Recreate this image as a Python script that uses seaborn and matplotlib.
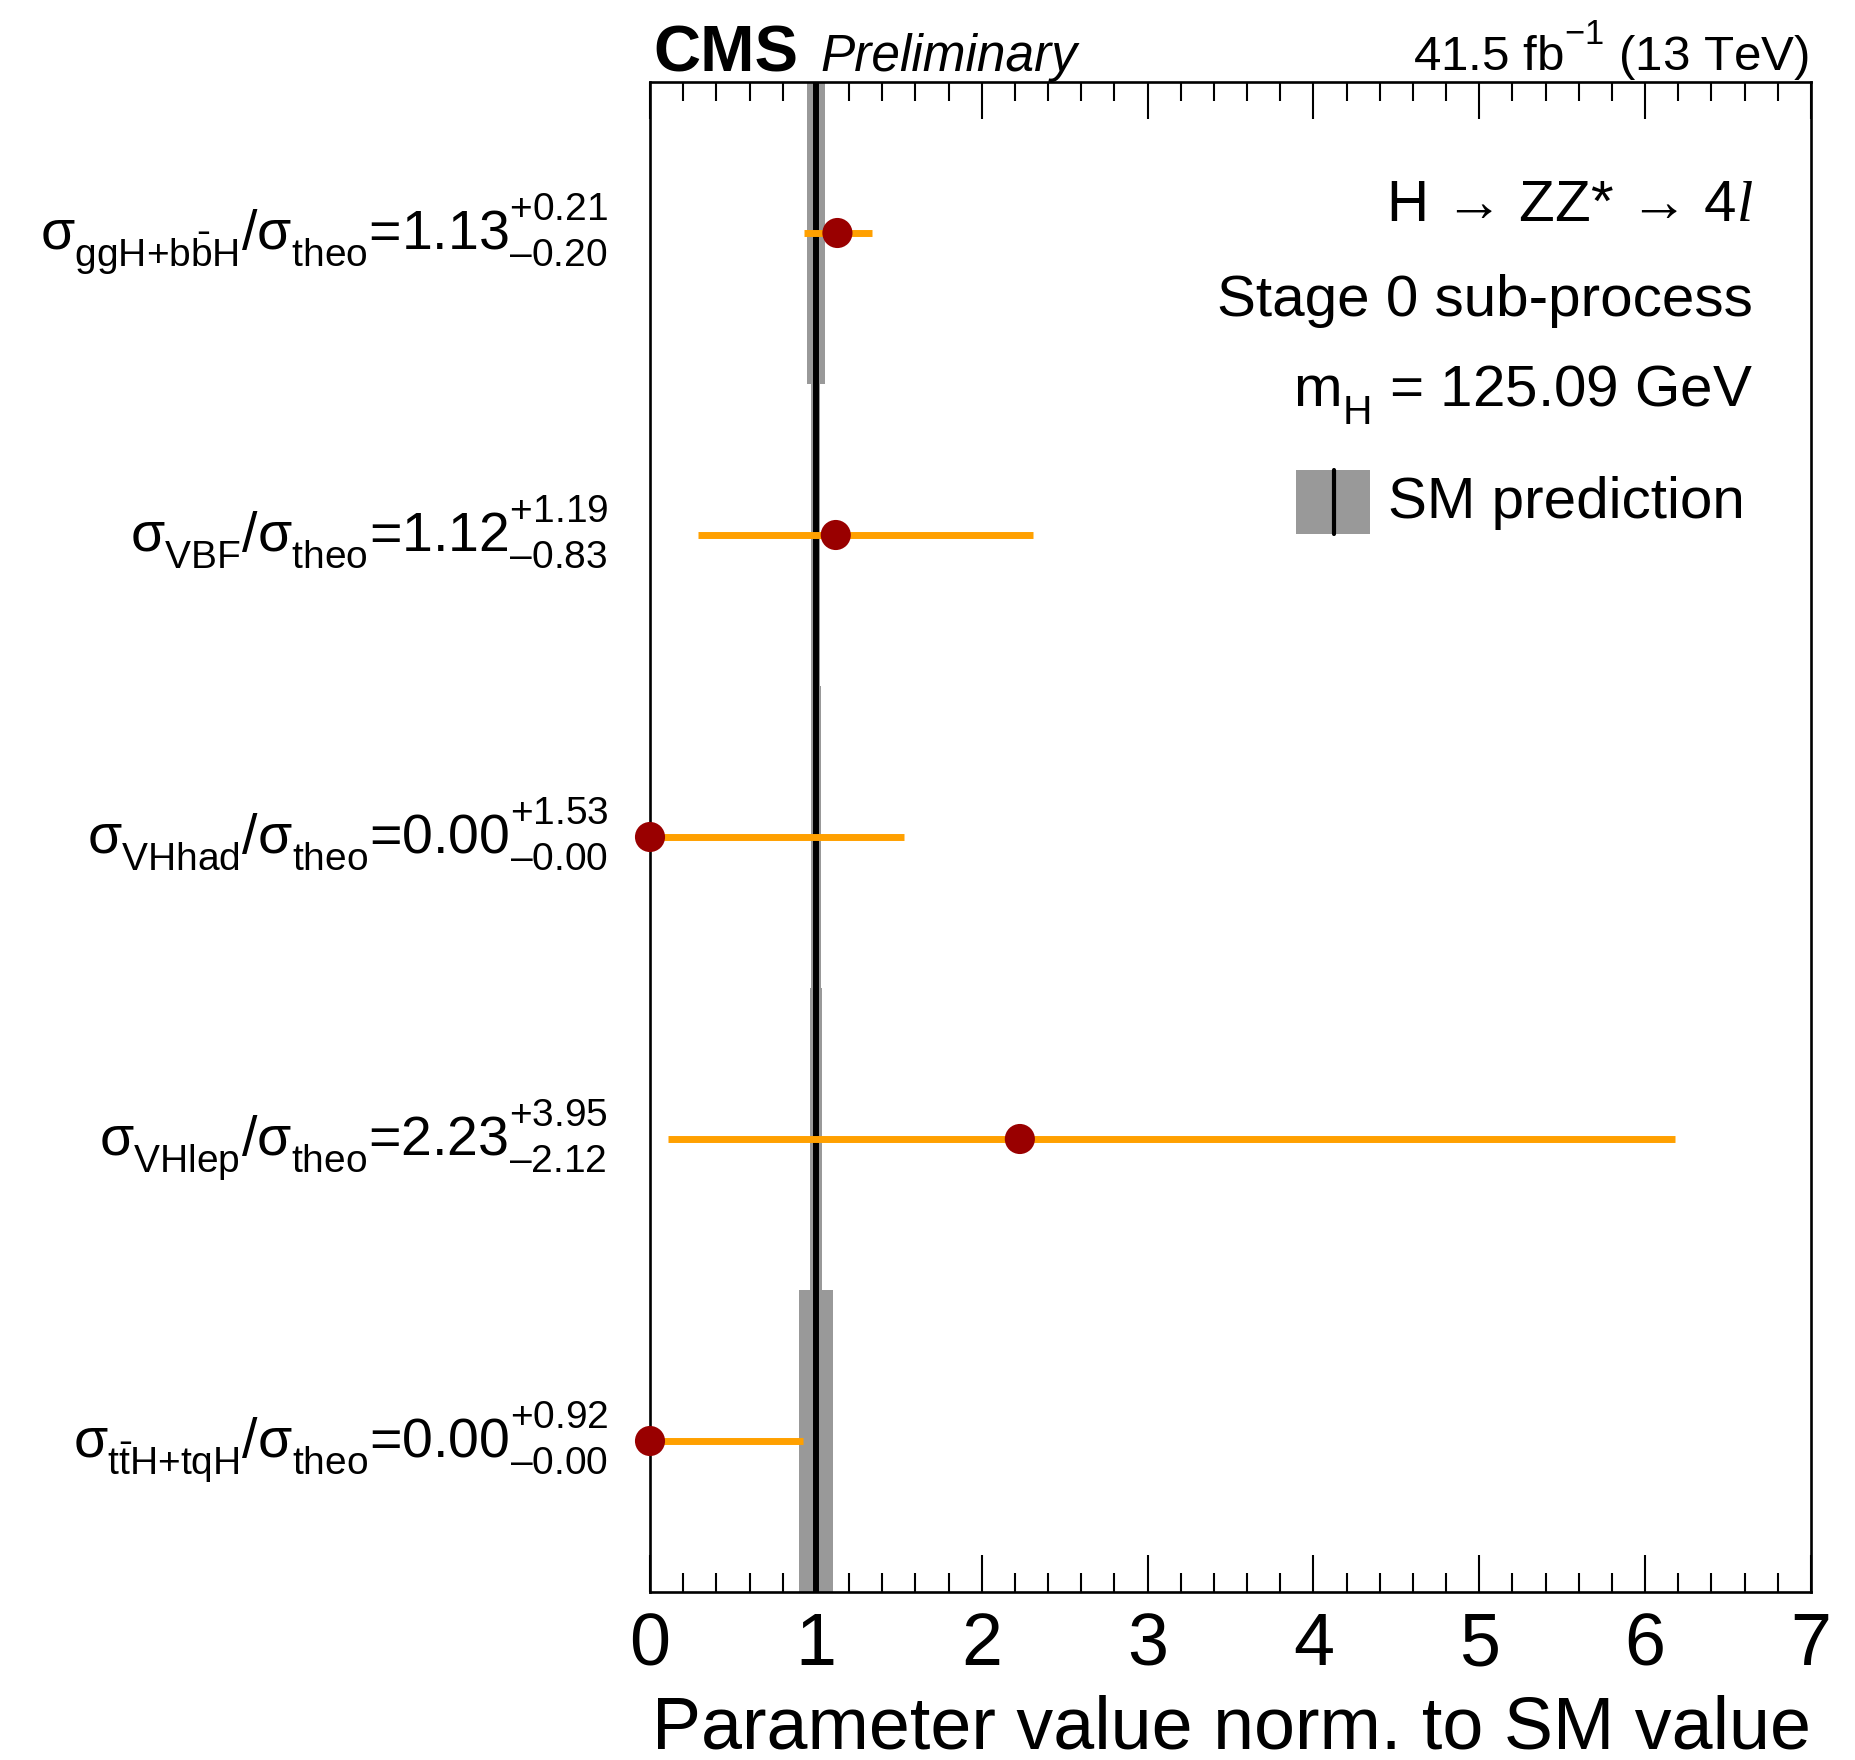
import numpy as np
import pandas as pd
import matplotlib
matplotlib.use("Agg")
import matplotlib.pyplot as plt
import matplotlib.patches as mpatches
import matplotlib.transforms as mtransforms
import seaborn as sns

# ---------------- data ----------------
processes = ["ggH", "VBF", "VHhad", "VHlep", "ttH"]
labels = [
    r"$\sigma_{\mathrm{ggH}\text{+}\mathrm{b\bar{b}H}}/\sigma_{\mathrm{theo}}\text{=1.13}^{\text{+0.21}}_{\text{\u20130.20}}$",
    r"$\sigma_{\mathrm{VBF}}/\sigma_{\mathrm{theo}}\text{=1.12}^{\text{+1.19}}_{\text{\u20130.83}}$",
    r"$\sigma_{\mathrm{VHhad}}/\sigma_{\mathrm{theo}}\text{=0.00}^{\text{+1.53}}_{\text{\u20130.00}}$",
    r"$\sigma_{\mathrm{VHlep}}/\sigma_{\mathrm{theo}}\text{=2.23}^{\text{+3.95}}_{\text{\u20132.12}}$",
    r"$\sigma_{\mathrm{t\bar{t}H}\text{+}\mathrm{tqH}}/\sigma_{\mathrm{theo}}\text{=0.00}^{\text{+0.92}}_{\text{\u20130.00}}$",
]
labels = [s.replace(r"\u2013", "\u2013") for s in labels]
best_fit = [1.13, 1.12, 0.00, 2.23, 0.00]
err_up = [0.21, 1.19, 1.53, 3.95, 0.92]
err_dn = [0.20, 0.83, 0.00, 2.12, 0.00]
sm_value = 1.0
sm_unc = [0.053, 0.027, 0.030, 0.036, 0.104]
xticks = [0, 1, 2, 3, 4, 5, 6, 7]

# ---------------- style ----------------
sns.set_style("ticks")
plt.rcParams["font.family"] = ["Liberation Sans", "DejaVu Sans"]
plt.rcParams["mathtext.fontset"] = "custom"
plt.rcParams["mathtext.rm"] = "Liberation Sans"
plt.rcParams["mathtext.it"] = "Liberation Serif:italic"
plt.rcParams["mathtext.bf"] = "Liberation Sans:bold"
plt.rcParams["mathtext.sf"] = "Liberation Sans"
plt.rcParams["mathtext.default"] = "rm"
for k in ["text.color", "axes.labelcolor", "xtick.color", "ytick.color",
          "axes.edgecolor"]:
    plt.rcParams[k] = "black"

# ROOT-like placement of sub/superscripts
try:
    import matplotlib._mathtext as _mt
    _mt.FontConstantsBase.sup1 = 0.99
    _mt.FontConstantsBase.sub1 = 0.62
    _mt.FontConstantsBase.sub2 = 0.62
except Exception:
    pass

W, H = 1856, 1760
fig = plt.figure(figsize=(W / 100, H / 100), dpi=100)
ax = fig.add_axes([650 / W, 1 - 1592 / H, (1811 - 650) / W, (1592 - 82) / H])

df = pd.DataFrame({
    "process": processes,
    "row": np.arange(len(processes)) + 0.5,
    "value": best_fit,
    "lo": np.array(best_fit) - np.array(err_dn),
    "hi": np.array(best_fit) + np.array(err_up),
    "sm_unc": sm_unc,
})

grey = "#999999"
orange = "#ffa000"
darkred = "#990000"

# SM uncertainty bands (one per row)
ax.barh(df["row"], 2 * df["sm_unc"], left=sm_value - df["sm_unc"], height=1.0,
        color=grey, edgecolor="none", zorder=1)
ax.axvline(sm_value, color="black", lw=4.3, zorder=2)

# error bars
ax.hlines(df["row"], df["lo"], df["hi"], color=orange, lw=5, zorder=3)

# best-fit points
sns.scatterplot(data=df, x="value", y="row", ax=ax, s=470, color=darkred,
                edgecolor="none", linewidth=0, zorder=4, legend=False)
for c in ax.collections:
    c.set_clip_on(False)

ax.set_xlim(0, 7)
ax.set_ylim(len(processes), 0)
ax.set_xticks(xticks)
ax.set_xticklabels([str(t) for t in xticks])
ax.xaxis.set_minor_locator(matplotlib.ticker.MultipleLocator(0.2))
ax.tick_params(axis="x", which="major", direction="in", top=True, length=26.5,
               width=1.5, labelsize=53, pad=14)
ax.tick_params(axis="x", which="minor", direction="in", top=True, length=13.5,
               width=1.5)
ax.set_yticks(df["row"])
ax.set_yticklabels(labels)
ax.tick_params(axis="y", which="both", length=0, labelsize=40, pad=30)
off = mtransforms.ScaledTranslation(0, 13 / 100, fig.dpi_scale_trans)
for lab in ax.get_yticklabels():
    lab.set_transform(lab.get_transform() + off)
for sp in ax.spines.values():
    sp.set_linewidth(1.9)
    sp.set_visible(True)

ax.set_xlabel("Parameter value norm. to SM value", fontsize=53, loc="right",
              labelpad=10)
ax.set_ylabel("")

# header texts
fig.text(653 / W, 1 - 71 / H, "CMS", fontsize=47, fontweight="bold",
         ha="left", va="baseline")
fig.text(820 / W, 1 - 71 / H, "Preliminary", fontsize=37, fontstyle="italic",
         ha="left", va="baseline")
fig.text(1809 / W, 1 - 71 / H, r"41.5 fb$^{-1}$ (13 TeV)", fontsize=35.5,
         ha="right", va="baseline")

# in-plot texts
xr = 1753 / W
fig.text(xr, 1 - 221 / H, "H \u2192 ZZ* \u2192 4$\\mathit{l}$",
         fontsize=42, ha="right", va="baseline")
fig.text(xr, 1 - 316 / H, "Stage 0 sub-process", fontsize=42, ha="right",
         va="baseline")
fig.text(xr, 1 - 406 / H, r"m$_{\mathrm{H}}$ = 125.09 GeV", fontsize=42,
         ha="right", va="baseline")
fig.text(1388 / W, 1 - 518 / H, "SM prediction", fontsize=42, ha="left",
         va="baseline")

# legend key
fig.patches.append(mpatches.Rectangle((1296 / W, 1 - 534 / H), 74 / W, 64 / H,
                                      transform=fig.transFigure, color=grey,
                                      ec="none"))
fig.lines.append(matplotlib.lines.Line2D([1334 / W, 1334 / W],
                                         [1 - 534 / H, 1 - 470 / H],
                                         transform=fig.transFigure,
                                         color="black", lw=3))

fig.savefig("out.png", dpi=100)
